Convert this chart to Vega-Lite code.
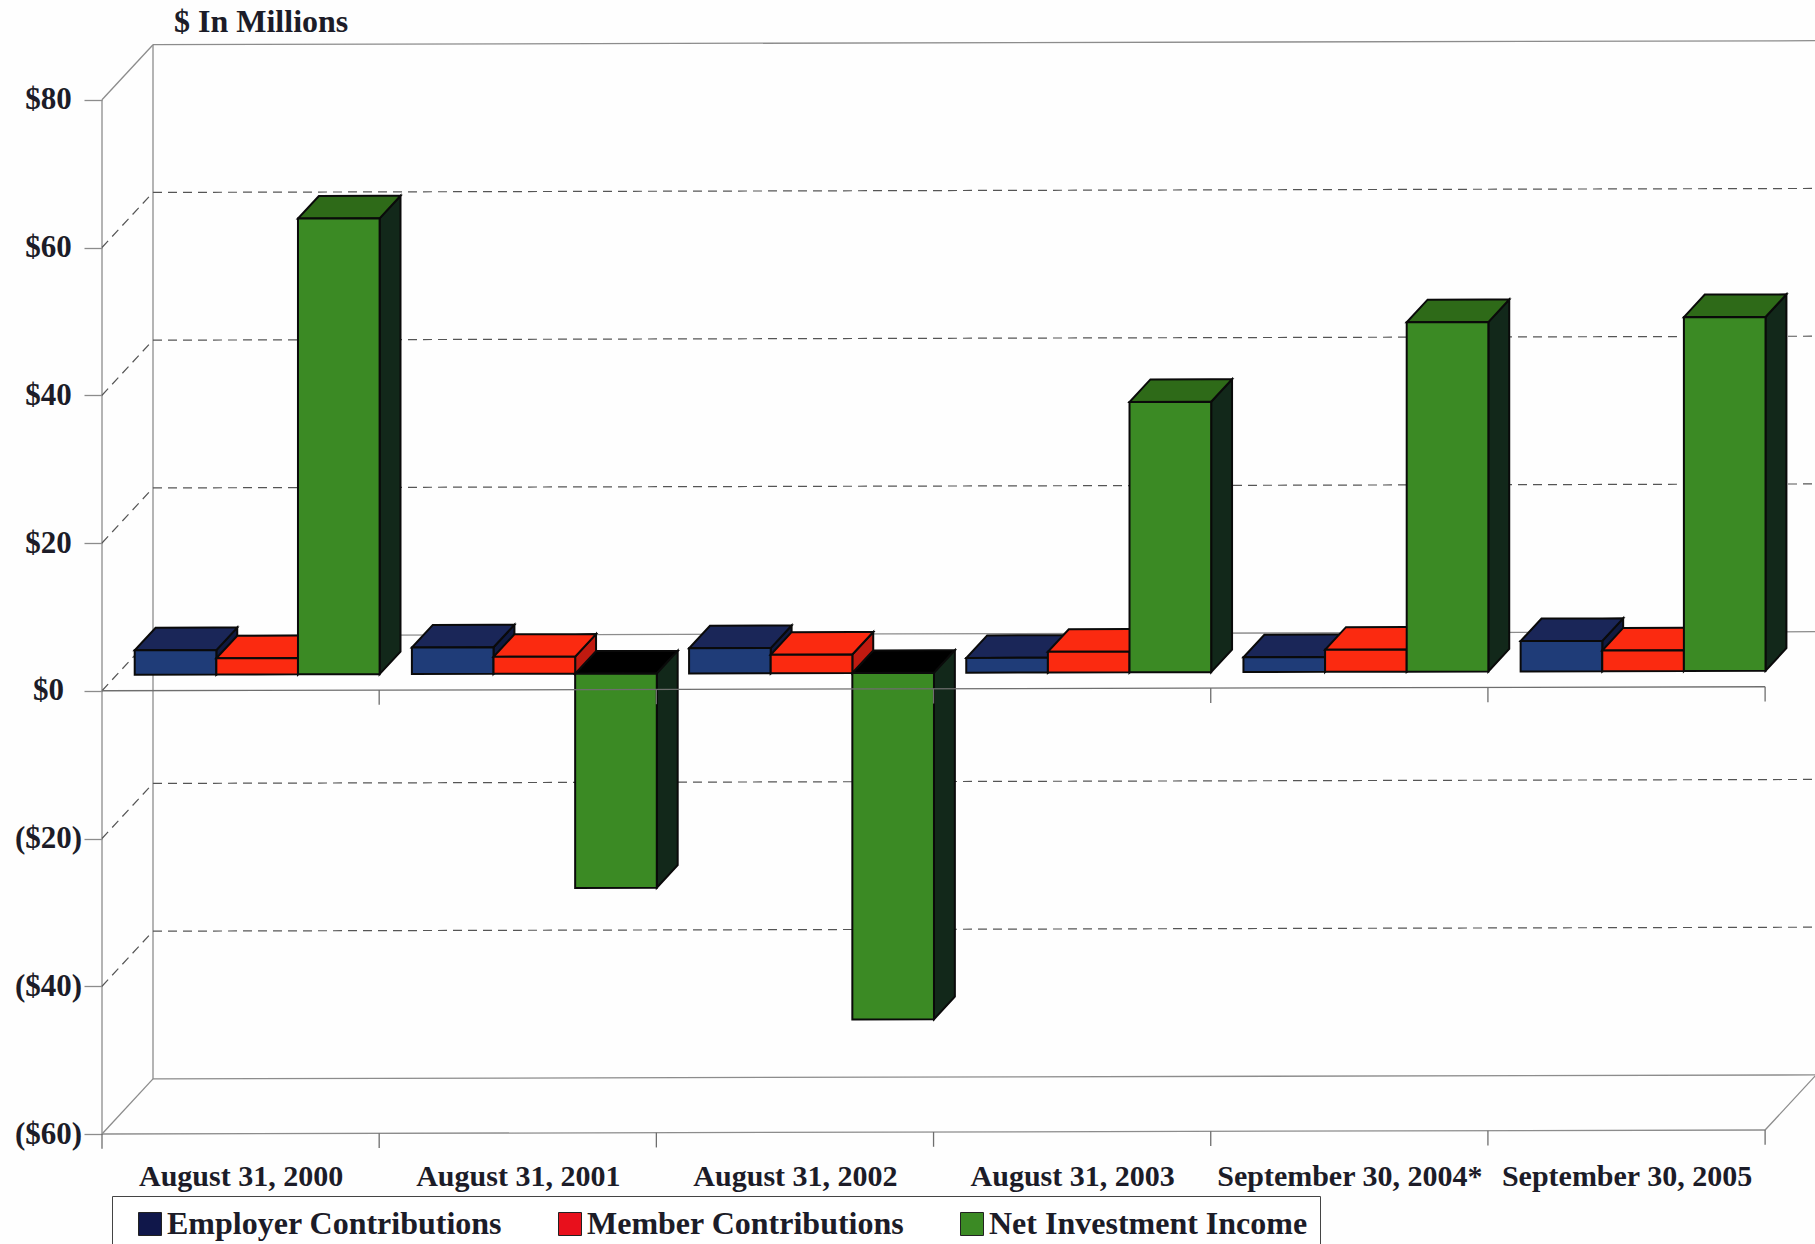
{
  "$schema": "https://vega.github.io/schema/vega-lite/v6.json",
  "width": 1713,
  "height": 1090,
  "padding": {"left": 102, "top": 44, "right": 0, "bottom": 110},
  "autosize": "none",
  "background": "#fefefe",
  "title": {
    "text": "$ In Millions",
    "anchor": "start",
    "frame": "group",
    "dx": 72,
    "offset": 1,
    "font": "Liberation Serif",
    "fontSize": 32,
    "fontWeight": "bold",
    "color": "#1c1c28"
  },
  "config": {
    "view": {"stroke": null},
    "axis": {"labelFont": "Liberation Serif", "labelFontWeight": "bold", "labelColor": "#1c1c28", "grid": false, "title": null}
  },
  "resolve": {"axis": {"x": "independent", "y": "independent"}},
  "datasets": {
    "bars": [
      {"period": "August 31, 2000", "series": "Employer Contributions", "value": 3.3},
      {"period": "August 31, 2000", "series": "Member Contributions", "value": 2.2},
      {"period": "August 31, 2000", "series": "Net Investment Income", "value": 61.7},
      {"period": "August 31, 2001", "series": "Employer Contributions", "value": 3.6},
      {"period": "August 31, 2001", "series": "Member Contributions", "value": 2.3},
      {"period": "August 31, 2001", "series": "Net Investment Income", "value": -29},
      {"period": "August 31, 2002", "series": "Employer Contributions", "value": 3.4},
      {"period": "August 31, 2002", "series": "Member Contributions", "value": 2.5},
      {"period": "August 31, 2002", "series": "Net Investment Income", "value": -46.9},
      {"period": "August 31, 2003", "series": "Employer Contributions", "value": 2.0},
      {"period": "August 31, 2003", "series": "Member Contributions", "value": 2.8},
      {"period": "August 31, 2003", "series": "Net Investment Income", "value": 36.6},
      {"period": "September 30, 2004*", "series": "Employer Contributions", "value": 2.0},
      {"period": "September 30, 2004*", "series": "Member Contributions", "value": 3.0},
      {"period": "September 30, 2004*", "series": "Net Investment Income", "value": 47.3},
      {"period": "September 30, 2005", "series": "Employer Contributions", "value": 4.1},
      {"period": "September 30, 2005", "series": "Member Contributions", "value": 2.8},
      {"period": "September 30, 2005", "series": "Net Investment Income", "value": 47.9}
    ],
    "walls": [
      {"kind": "solid", "x": 0, "v": -60, "depth": 0, "x2": 0, "v2": 80, "depth2": 0},
      {"kind": "solid", "x": 0, "v": -60, "depth": 1, "x2": 0, "v2": 80, "depth2": 1},
      {"kind": "solid", "x": 0, "v": 80, "depth": 0, "x2": 0, "v2": 80, "depth2": 1},
      {"kind": "solid", "x": 0, "v": -60, "depth": 0, "x2": 0, "v2": -60, "depth2": 1},
      {"kind": "solid", "x": 0, "v": 80, "depth": 1, "x2": 6, "v2": 80, "depth2": 1},
      {"kind": "solid", "x": 0, "v": -60, "depth": 1, "x2": 6, "v2": -60, "depth2": 1},
      {"kind": "solid", "x": 0, "v": -60, "depth": 0, "x2": 6, "v2": -60, "depth2": 0},
      {"kind": "solid", "x": 6, "v": -60, "depth": 0, "x2": 6, "v2": -60, "depth2": 1},
      {"kind": "solid", "x": 0, "v": 0, "depth": 1, "x2": 6, "v2": 0, "depth2": 1},
      {"kind": "dashed", "x": 0, "v": 60, "depth": 1, "x2": 6, "v2": 60, "depth2": 1},
      {"kind": "dashed", "x": 0, "v": 40, "depth": 1, "x2": 6, "v2": 40, "depth2": 1},
      {"kind": "dashed", "x": 0, "v": 20, "depth": 1, "x2": 6, "v2": 20, "depth2": 1},
      {"kind": "dashed", "x": 0, "v": -20, "depth": 1, "x2": 6, "v2": -20, "depth2": 1},
      {"kind": "dashed", "x": 0, "v": -40, "depth": 1, "x2": 6, "v2": -40, "depth2": 1},
      {"kind": "dashed", "x": 0, "v": 60, "depth": 0, "x2": 0, "v2": 60, "depth2": 1},
      {"kind": "dashed", "x": 0, "v": 40, "depth": 0, "x2": 0, "v2": 40, "depth2": 1},
      {"kind": "dashed", "x": 0, "v": 20, "depth": 0, "x2": 0, "v2": 20, "depth2": 1},
      {"kind": "dashed", "x": 0, "v": 0, "depth": 0, "x2": 0, "v2": 0, "depth2": 1},
      {"kind": "dashed", "x": 0, "v": -20, "depth": 0, "x2": 0, "v2": -20, "depth2": 1},
      {"kind": "dashed", "x": 0, "v": -40, "depth": 0, "x2": 0, "v2": -40, "depth2": 1}
    ],
    "front": [
      {"x": 0, "v": 0, "x2": 6, "v2": 0},
      {"x": 1, "v": 0, "x2": 1, "v2": -2},
      {"x": 2, "v": 0, "x2": 2, "v2": -2},
      {"x": 3, "v": 0, "x2": 3, "v2": -2},
      {"x": 4, "v": 0, "x2": 4, "v2": -2},
      {"x": 5, "v": 0, "x2": 5, "v2": -2},
      {"x": 6, "v": 0, "x2": 6, "v2": -2},
      {"x": 0, "v": -60, "x2": 0, "v2": -62},
      {"x": 1, "v": -60, "x2": 1, "v2": -62},
      {"x": 2, "v": -60, "x2": 2, "v2": -62},
      {"x": 3, "v": -60, "x2": 3, "v2": -62},
      {"x": 4, "v": -60, "x2": 4, "v2": -62},
      {"x": 5, "v": -60, "x2": 5, "v2": -62},
      {"x": 6, "v": -60, "x2": 6, "v2": -62}
    ]
  },
  "layer": [
    {
      "data": {"name": "walls"},
      "transform": [
        {"calculate": "datum.x + datum.depth * 0.184", "as": "px"},
        {"calculate": "datum.x2 + datum.depth2 * 0.184", "as": "px2"},
        {"calculate": "datum.v + datum.depth * 7.44 + 0.09 * datum.px", "as": "py"},
        {"calculate": "datum.v2 + datum.depth2 * 7.44 + 0.09 * datum.px2", "as": "py2"}
      ],
      "resolve": {"axis": {"x": "independent", "y": "independent"}},
      "layer": [
        {
          "transform": [{"filter": "datum.kind === 'solid'"}],
          "mark": {"type": "rule", "stroke": "#8c8c8c", "strokeWidth": 1.3},
          "encoding": {
            "x": {
              "field": "px", "type": "quantitative",
              "scale": {"domain": [0, 6.18], "nice": false, "zero": false},
              "axis": {
                "values": [0.5, 1.5, 2.5, 3.5, 4.5, 5.5],
                "domain": false, "ticks": false,
                "labelFontSize": 30, "labelPadding": 27, "labelLimit": 400, "labelOverlap": false, "labelFlush": false,
                "labelExpr": "['August 31, 2000','August 31, 2001','August 31, 2002','August 31, 2003','September 30, 2004*','September 30, 2005'][floor(datum.value)]"
              }
            },
            "x2": {"field": "px2"},
            "y": {
              "field": "py", "type": "quantitative",
              "scale": {"domain": [-60, 87.55], "nice": false, "zero": false},
              "axis": {
                "values": [-60, -40, -20, 0, 20, 40, 60, 80],
                "domain": false, "tickSize": 18, "tickColor": "#8c8c8c", "tickWidth": 1.3,
                "labelFontSize": 31, "labelAlign": "center", "labelPadding": 36,
                "labelExpr": "datum.value < 0 ? '($' + abs(datum.value) + ')' : '$' + datum.value"
              }
            },
            "y2": {"field": "py2"}
          }
        },
        {
          "transform": [{"filter": "datum.kind === 'dashed'"}],
          "mark": {"type": "rule", "stroke": "#555555", "strokeWidth": 1.2, "strokeDash": [9, 6]},
          "encoding": {
            "x": {"field": "px", "type": "quantitative", "scale": {"domain": [0, 6.18], "nice": false, "zero": false}, "axis": null},
            "x2": {"field": "px2"},
            "y": {"field": "py", "type": "quantitative", "scale": {"domain": [-60, 87.55], "nice": false, "zero": false}, "axis": null},
            "y2": {"field": "py2"}
          }
        }
      ]
    },
    {
      "data": {"name": "bars"},
      "transform": [
        {"calculate": "indexof(['August 31, 2000','August 31, 2001','August 31, 2002','August 31, 2003','September 30, 2004*','September 30, 2005'], datum.period)", "as": "g"},
        {"calculate": "indexof(['Employer Contributions','Member Contributions','Net Investment Income'], datum.series)", "as": "s"},
        {"calculate": "datum.g + 0.118 + datum.s * 0.2945", "as": "xl"},
        {"calculate": "datum.xl + 0.2945", "as": "xr"},
        {"calculate": "max(datum.value, 0)", "as": "hi"},
        {"calculate": "min(datum.value, 0)", "as": "lo"},
        {"calculate": "[{f:'side',x:datum.xr,a:datum.lo,b:datum.hi},{f:'side',x:datum.xr+0.0754,a:datum.lo+3.05,b:datum.hi+3.05},{f:'top',x:datum.xl,a:datum.hi,b:datum.hi},{f:'top',x:datum.xl+0.0754,a:datum.hi,b:datum.hi+3.05},{f:'top',x:datum.xr,a:datum.hi,b:datum.hi+3.05},{f:'top',x:datum.xr+0.0754,a:datum.hi+3.05,b:datum.hi+3.05},{f:'front',x:datum.xl,a:datum.lo,b:datum.hi},{f:'front',x:datum.xr,a:datum.lo,b:datum.hi}]", "as": "stops"},
        {"flatten": ["stops"]},
        {"calculate": "datum.stops.x", "as": "px"},
        {"calculate": "datum.stops.a + 2.16 + 0.09 * datum.px", "as": "py"},
        {"calculate": "datum.stops.b + 2.16 + 0.09 * datum.px", "as": "py2"},
        {"calculate": "datum.stops.f === 'top' && datum.value < 0 ? 'underside' : datum.series + ' ' + datum.stops.f", "as": "face"},
        {"calculate": "datum.g + '-' + datum.s + '-' + datum.stops.f", "as": "faceId"}
      ],
      "resolve": {"axis": {"x": "independent", "y": "independent"}},
      "layer": [
        {
          "transform": [{"filter": "datum.face === 'underside'"}],
          "mark": {"type": "area", "orient": "vertical", "stroke": "#0a0a0a", "strokeWidth": 2, "fill": "#000000"},
          "encoding": {
            "x": {"field": "px", "type": "quantitative", "scale": {"domain": [0, 6.18], "nice": false, "zero": false}, "axis": null},
            "y": {"field": "py", "type": "quantitative", "stack": null, "scale": {"domain": [-60, 87.55], "nice": false, "zero": false}, "axis": null},
            "y2": {"field": "py2"},
            "detail": {"field": "faceId"}
          }
        },
        {
          "transform": [{"filter": "datum.face !== 'underside'"}],
          "mark": {"type": "area", "orient": "vertical", "stroke": "#0a0a0a", "strokeWidth": 2},
          "encoding": {
            "x": {"field": "px", "type": "quantitative", "scale": {"domain": [0, 6.18], "nice": false, "zero": false}, "axis": null},
            "y": {"field": "py", "type": "quantitative", "stack": null, "scale": {"domain": [-60, 87.55], "nice": false, "zero": false}, "axis": null},
            "y2": {"field": "py2"},
            "detail": {"field": "faceId"},
            "fill": {
              "field": "face", "type": "nominal", "legend": null,
              "scale": {
                "domain": ["Employer Contributions front", "Employer Contributions top", "Employer Contributions side", "Member Contributions front", "Member Contributions top", "Member Contributions side", "Net Investment Income front", "Net Investment Income top", "Net Investment Income side"],
                "range": ["#1f3c78", "#1a2658", "#101a40", "#fb2a10", "#fb2a10", "#c01a10", "#3b8a24", "#2e6a18", "#12281a"]
              }
            }
          }
        },
        {
          "mark": {"type": "point", "filled": true, "opacity": 0},
          "encoding": {
            "x": {"field": "xl", "type": "quantitative", "scale": {"domain": [0, 6.18], "nice": false, "zero": false}, "axis": null},
            "y": {"field": "hi", "type": "quantitative", "scale": {"domain": [-60, 87.55], "nice": false, "zero": false}, "axis": null},
            "color": {
              "field": "series", "type": "nominal",
              "scale": {"domain": ["Employer Contributions", "Member Contributions", "Net Investment Income"], "range": ["#10174a", "#e8101c", "#3b8a24"]},
              "legend": {
                "title": null,
                "orient": "none",
                "legendX": 10,
                "legendY": 1152,
                "direction": "horizontal",
                "columns": 3,
                "columnPadding": 41,
                "padding": 12,
                "fillColor": "#ffffff",
                "strokeColor": "#444444",
                "symbolType": "square",
                "symbolSize": 529,
                "symbolOpacity": 1,
                "symbolStrokeColor": "#222222",
                "symbolStrokeWidth": 1,
                "symbolOffset": 10,
                "labelFont": "Liberation Serif",
                "labelFontWeight": "bold",
                "labelFontSize": 32,
                "labelColor": "#1c1c28",
                "labelOffset": 1,
                "labelLimit": 400
              }
            }
          }
        }
      ]
    },
    {
      "data": {"name": "front"},
      "transform": [
        {"calculate": "datum.v + 0.09 * datum.x", "as": "py"},
        {"calculate": "datum.v2 + 0.09 * datum.x2", "as": "py2"}
      ],
      "mark": {"type": "rule", "stroke": "#6e6e6e", "strokeWidth": 1.3},
      "encoding": {
        "x": {"field": "x", "type": "quantitative", "scale": {"domain": [0, 6.18], "nice": false, "zero": false}, "axis": null},
        "x2": {"field": "x2"},
        "y": {"field": "py", "type": "quantitative", "scale": {"domain": [-60, 87.55], "nice": false, "zero": false}, "axis": null},
        "y2": {"field": "py2"}
      }
    }
  ]
}
